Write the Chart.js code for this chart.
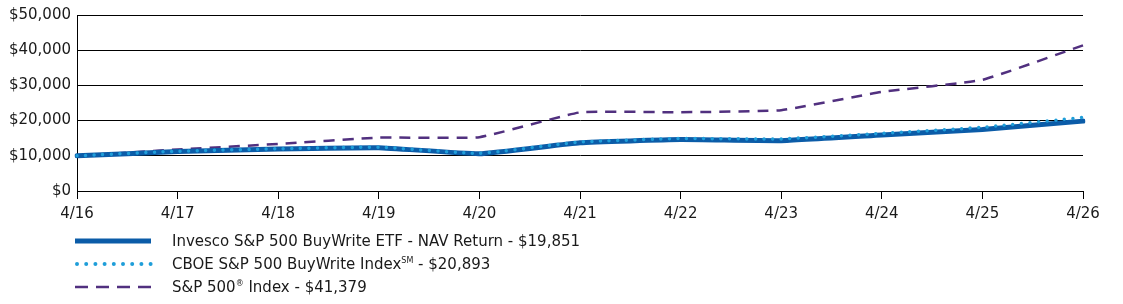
<!DOCTYPE html>
<html>
<head>
<meta charset="utf-8">
<script src="https://cdn.jsdelivr.net/npm/chart.js@4/dist/chart.umd.min.js"></script>
<style>
html,body{margin:0;padding:0;background:#fff;}
#wrap{position:relative;width:1123px;height:304px;overflow:hidden;font-family:"DejaVu Sans",sans-serif;color:#1a1a1a;}
#c{position:absolute;left:0;top:0;}
.row{position:absolute;left:0;height:20px;line-height:20px;font-size:15px;white-space:nowrap;}
.row svg{position:absolute;left:75px;top:0;}
.row span.t{position:absolute;left:172px;top:0;}
sup{font-size:8px;vertical-align:0;position:relative;top:-6px;}
</style>
</head>
<body>
<div id="wrap">
<canvas id="c" width="1123" height="304"></canvas>
<div class="row" style="top:231px">
  <svg width="80" height="20"><line x1="0" y1="10" x2="76" y2="10" stroke="#0B5CA8" stroke-width="5"/></svg>
  <span class="t" id="l0"></span>
</div>
<div class="row" style="top:254px">
  <svg width="80" height="20"><line x1="2" y1="10" x2="76" y2="10" stroke="#1F9ED9" stroke-width="4" stroke-linecap="round" stroke-dasharray="0 9.2"/></svg>
  <span class="t" id="l1"></span>
</div>
<div class="row" style="top:277px">
  <svg width="80" height="20"><line x1="0" y1="10" x2="76" y2="10" stroke="#51307F" stroke-width="2.5" stroke-dasharray="13 8"/></svg>
  <span class="t" id="l2"></span>
</div>
</div>
<script>
const categories = ['4/16','4/17','4/18','4/19','4/20','4/21','4/22','4/23','4/24','4/25','4/26'];
const etfNav = [10000, 11200, 11900, 12300, 10600, 13700, 14600, 14300, 15900, 17500, 19851];
const cboeBuyWrite = [10000, 11300, 12000, 12450, 10700, 13900, 14900, 14800, 16400, 18100, 20893];
const sp500 = [10000, 11792, 13361, 15163, 15293, 22325, 22372, 22967, 28172, 31580, 41379];
const yTicks = [0, 10000, 20000, 30000, 40000, 50000];
const legendLabels = [
  'Invesco S&amp;P 500 BuyWrite ETF - NAV Return - $19,851',
  'CBOE S&amp;P 500 BuyWrite Index<sup>SM</sup> - $20,893',
  'S&amp;P 500<sup>®</sup> Index - $41,379'
];
legendLabels.forEach((t,i)=>{document.getElementById('l'+i).innerHTML=t;});

const fmt = v => '$' + v.toLocaleString('en-US');

new Chart(document.getElementById('c'), {
  type: 'line',
  data: {
    labels: categories,
    datasets: [
      {label:'Invesco S&P 500 BuyWrite ETF - NAV Return', data: etfNav, borderColor:'#0B5CA8', borderWidth:5, pointRadius:0, tension:0.12, order:1, borderCapStyle:'round'},
      {label:'CBOE S&P 500 BuyWrite Index', data: cboeBuyWrite, borderColor:'#1F9ED9', borderWidth:3.5, borderDash:[0,8.6], borderCapStyle:'round', pointRadius:0, tension:0.12, order:0},
      {label:'S&P 500 Index', data: sp500, borderColor:'#51307F', borderWidth:2.5, borderDash:[11,8], pointRadius:0, tension:0.12, order:2}
    ]
  },
  options: {
    responsive:false,
    animation:false,
    devicePixelRatio:1,
    layout:{padding:{top:13,right:40,bottom:0,left:0}},
    plugins:{legend:{display:false},tooltip:{enabled:false}},
    scales:{
      x:{
        type:'category',
        offset:false,
        grid:{drawOnChartArea:false,drawTicks:true,tickLength:8,color:'#000',lineWidth:1},
        border:{display:true,color:'#000',width:1},
        ticks:{color:'#1a1a1a',font:{family:'DejaVu Sans',size:15},padding:6,maxRotation:0,autoSkip:false},
        afterFit: s => { s.height = 113; }
      },
      y:{
        min:0,max:50000,
        afterBuildTicks: s => { s.ticks = yTicks.map(v=>({value:v})); },
        grid:{color:'#000',lineWidth:1,drawTicks:false},
        border:{display:true,color:'#000',width:1},
        ticks:{color:'#1a1a1a',font:{family:'DejaVu Sans',size:15},padding:6,callback: v => fmt(v)},
        afterFit: s => { s.width = 77; }
      }
    }
  }
});
</script>
</body>
</html>
